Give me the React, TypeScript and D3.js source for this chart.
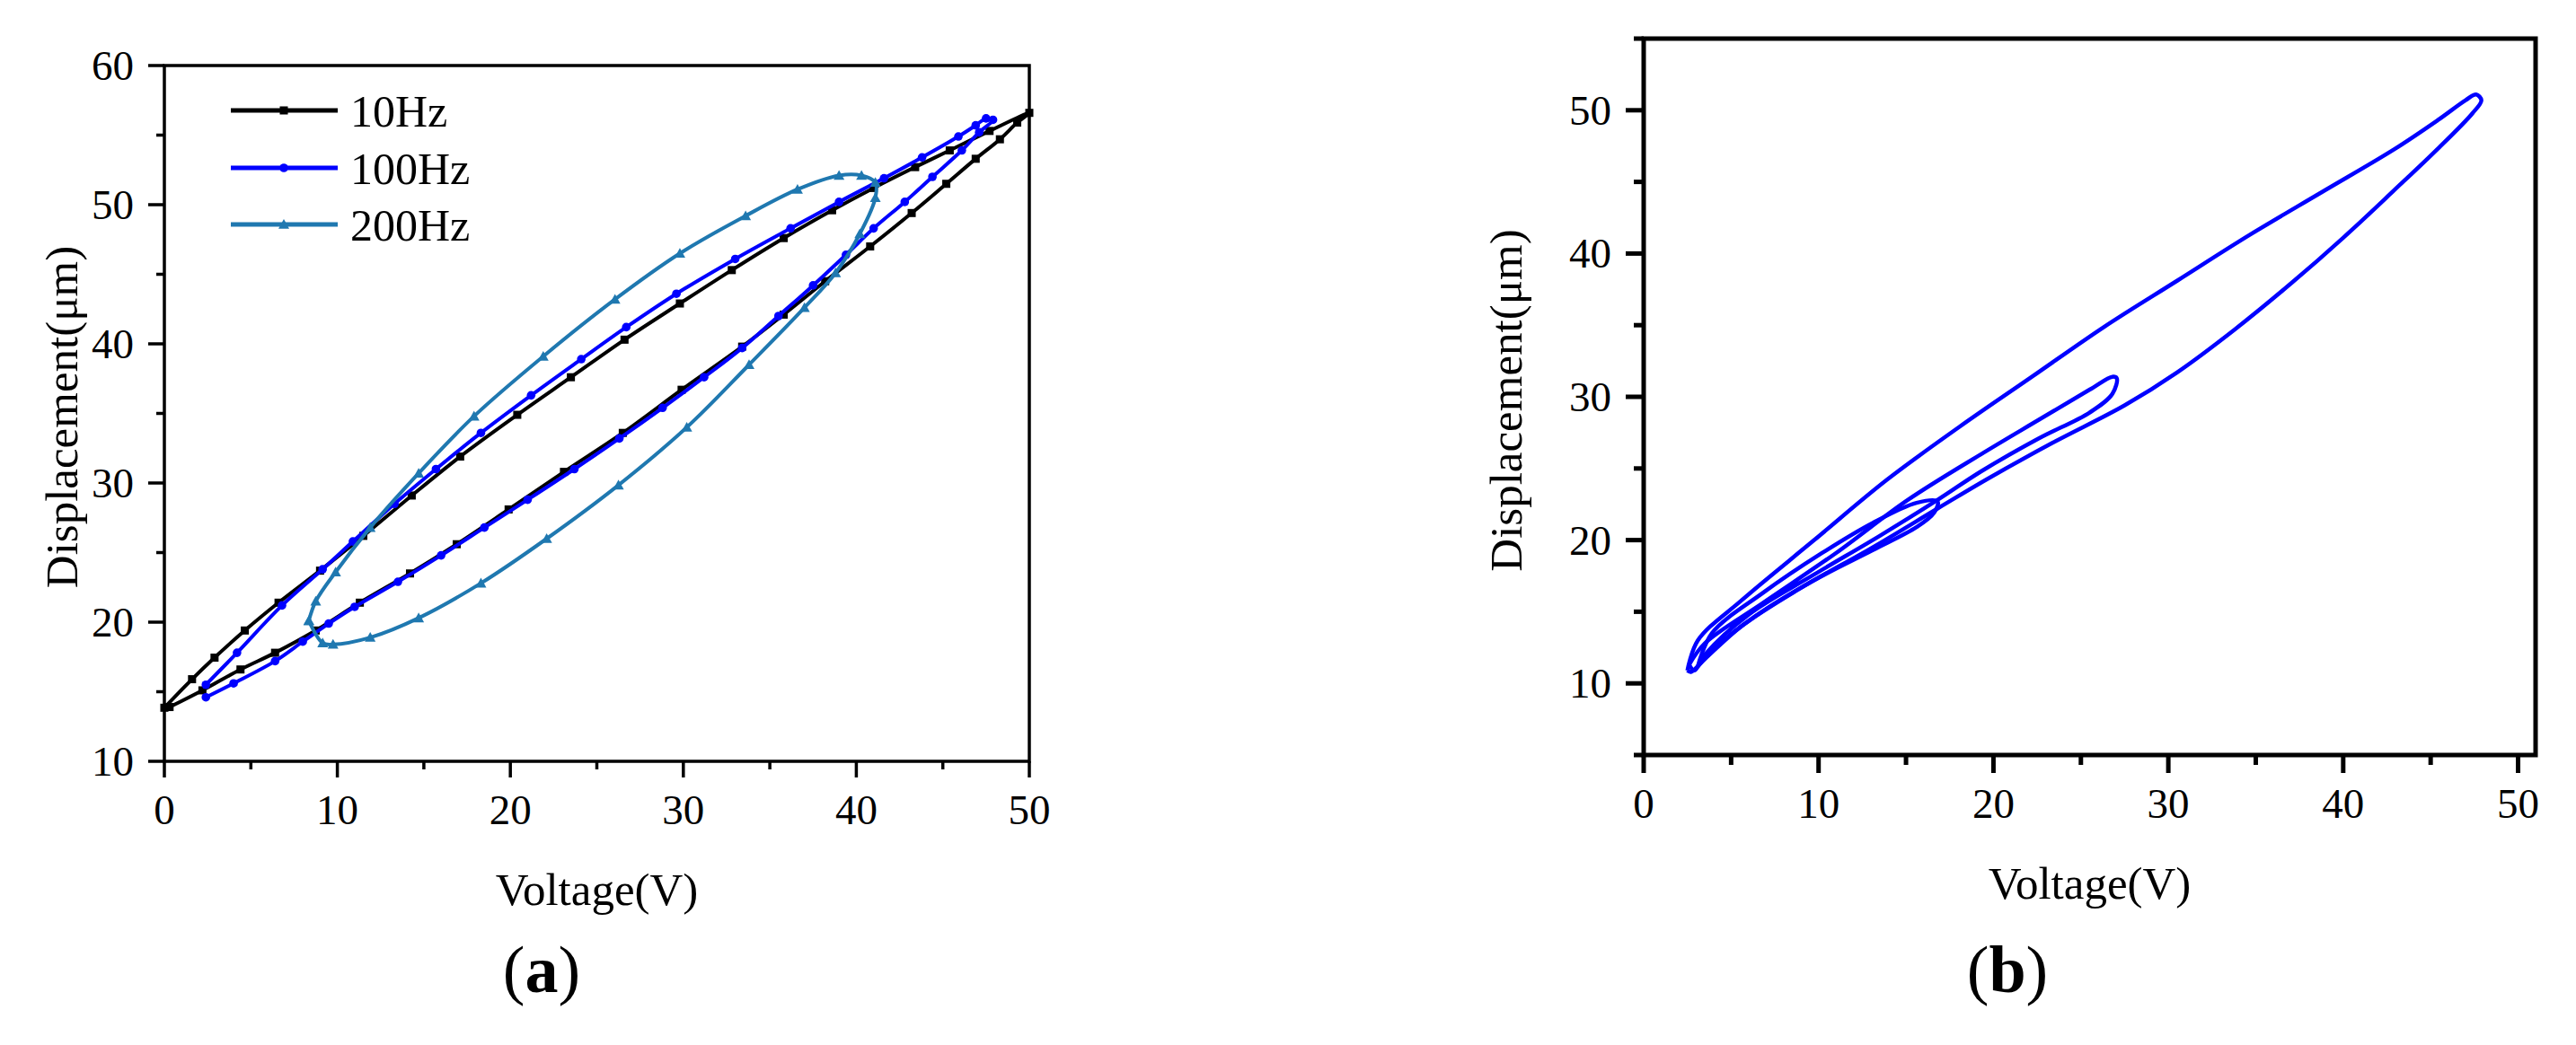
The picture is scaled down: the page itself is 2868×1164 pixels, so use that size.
import React from 'react';
import * as d3 from 'd3';

type Pt = [number, number];

// ---- panel (a): hysteresis loops at three frequencies (Voltage V, Displacement um)
const hz10: Pt[] = [
  [0, 13.85], [1.6, 15.9], [2.9, 17.45], [4.65, 19.4], [6.6, 21.4], [9.0, 23.7], [11.5, 26.2],
  [14.3, 29.1], [17.1, 31.9], [20.4, 34.9], [23.5, 37.6], [26.6, 40.3], [29.8, 42.9], [32.8, 45.3],
  [35.8, 47.6], [38.6, 49.6], [41.0, 51.2], [43.4, 52.7], [45.4, 53.9], [47.7, 55.3], [50, 56.6],
  [49.3, 55.9], [48.3, 54.7], [46.9, 53.3], [45.2, 51.5], [43.2, 49.4], [40.8, 47.0], [38.2, 44.5],
  [35.8, 42.1], [33.4, 39.8], [29.9, 36.7], [26.5, 33.6], [23.1, 30.8], [19.9, 28.1], [16.9, 25.6],
  [14.2, 23.5], [11.3, 21.4], [8.75, 19.4], [6.4, 17.8], [4.4, 16.6], [2.2, 15.1], [0.3, 13.9],
];

const hz100: Pt[] = [
  [2.4, 15.5], [4.2, 17.8], [6.8, 21.2], [9.15, 23.8], [10.9, 25.8], [13.3, 28.5], [15.7, 31.0],
  [18.3, 33.6], [21.2, 36.3], [24.1, 38.9], [26.7, 41.2], [29.6, 43.6], [33.0, 46.1], [36.2, 48.3],
  [39.0, 50.2], [41.6, 51.9], [43.8, 53.4], [45.9, 54.9], [46.9, 55.7], [47.5, 56.2], [47.9, 56.1],
  [47.1, 55.2], [46.1, 53.9], [44.4, 52.0], [42.8, 50.2], [41.0, 48.3], [39.4, 46.4], [37.5, 44.2],
  [35.5, 42.0], [33.4, 39.7], [31.2, 37.6], [28.8, 35.4], [26.3, 33.2], [23.7, 31.0], [21.0, 28.8],
  [18.5, 26.8], [16.0, 24.8], [13.5, 22.9], [11.0, 21.1], [9.5, 19.9], [8.0, 18.6], [6.4, 17.2],
  [4.0, 15.6], [2.4, 14.6],
];

const hz200: Pt[] = [
  [8.35, 20.1], [9.15, 18.5], [9.75, 18.4], [11.9, 18.9], [14.7, 20.3], [18.3, 22.8], [22.1, 26.0],
  [26.25, 29.85], [30.2, 34.0], [33.8, 38.5], [37.0, 42.6], [38.8, 45.1], [40.2, 47.9], [41.1, 50.5],
  [41.1, 51.6], [40.3, 52.1], [39.0, 52.1], [36.6, 51.1], [33.6, 49.2], [29.8, 46.5], [26.05, 43.2],
  [21.9, 39.1], [17.9, 34.8], [14.7, 30.7], [11.9, 26.8], [9.9, 23.6], [8.75, 21.5], [8.35, 20.1],
];

const legendA = ['10Hz', '100Hz', '200Hz'];

// ---- panel (b): nested minor loops
const loopBig: Pt[] = [
  [2.5, 10.9], [3.1, 13.0], [5.6, 15.8], [9.75, 20.0], [13.9, 24.2], [18.05, 27.9], [22.2, 31.4],
  [26.35, 34.9], [30.5, 38.1], [34.65, 41.3], [38.8, 44.3], [42.95, 47.3], [45.4, 49.3], [47.0, 50.7],
  [47.6, 51.1], [47.9, 50.7], [47.4, 49.8], [45.4, 47.3], [42.9, 44.4], [40.0, 41.1], [37.1, 38.0],
  [33.8, 34.7], [30.5, 31.7], [27.5, 29.4], [23.4, 26.8], [19.7, 24.3], [16.8, 22.2], [13.1, 19.5],
  [8.9, 16.6], [5.6, 14.0], [3.5, 11.7], [2.7, 10.8], [2.5, 10.9],
];

const loopMid: Pt[] = [
  [2.6, 11.3], [3.5, 12.8], [6.8, 15.6], [11.0, 19.1], [15.1, 22.8], [19.3, 26.0], [22.6, 28.4],
  [25.5, 30.5], [26.8, 31.4], [27.05, 31.3], [26.8, 30.2], [25.5, 28.9], [22.6, 27.1], [19.3, 24.8],
  [16.8, 22.8], [13.5, 20.3], [9.75, 17.6], [6.0, 14.8], [3.5, 12.0], [2.9, 10.9], [2.6, 11.3],
];

const loopSmall: Pt[] = [
  [3.1, 11.2], [3.9, 13.5], [6.8, 16.3], [10.2, 19.1], [13.1, 21.2], [15.6, 22.6], [16.8, 22.7],
  [16.6, 21.9], [15.6, 20.9], [13.1, 19.3], [9.75, 17.2], [6.4, 14.7], [3.9, 12.3], [3.1, 11.2],
];

const xMajor = [0, 10, 20, 30, 40, 50];
const xMinor = [5, 15, 25, 35, 45];
const yMajorA = [10, 20, 30, 40, 50, 60];
const yMinorA = [15, 25, 35, 45, 55];
const yMajorB = [10, 20, 30, 40, 50];
const yMinorB = [5, 15, 25, 35, 45, 55];

const FONT = '"Liberation Serif", "Times New Roman", serif';
const BLACK = '#000000';
const BLUE = '#0000ff';
const TEAL = '#1f78b0';

type Box = { l: number; r: number; t: number; b: number };

function Frame({ box, x, y, yMaj, yMin, sw, maj, min, titleX }: {
  box: Box; x: d3.ScaleLinear<number, number>; y: d3.ScaleLinear<number, number>;
  yMaj: number[]; yMin: number[]; sw: number; maj: number; min: number; titleX: number;
}) {
  const cx = (box.l + box.r) / 2;
  return (
    <g>
      <rect x={box.l} y={box.t} width={box.r - box.l} height={box.b - box.t}
        fill="none" stroke="#000" strokeWidth={sw} />
      {xMajor.map((v) => (
        <g key={'xM' + v}>
          <line x1={x(v)} x2={x(v)} y1={box.b} y2={box.b + maj} stroke="#000" strokeWidth={sw} />
          <text x={x(v)} y={box.b + 70} fontSize={47} textAnchor="middle" fontFamily={FONT}>{v}</text>
        </g>
      ))}
      {xMinor.map((v) => (
        <line key={'xm' + v} x1={x(v)} x2={x(v)} y1={box.b} y2={box.b + min} stroke="#000" strokeWidth={sw} />
      ))}
      {yMaj.map((v) => (
        <g key={'yM' + v}>
          <line x1={box.l - maj} x2={box.l} y1={y(v)} y2={y(v)} stroke="#000" strokeWidth={sw} />
          <text x={box.l - maj - 16} y={y(v)} dy="0.34em" fontSize={47} textAnchor="end" fontFamily={FONT}>{v}</text>
        </g>
      ))}
      {yMin.map((v) => (
        <line key={'ym' + v} x1={box.l - min} x2={box.l} y1={y(v)} y2={y(v)} stroke="#000" strokeWidth={sw} />
      ))}
      <text x={cx} y={box.b + 160} fontSize={51} textAnchor="middle" fontFamily={FONT}>Voltage(V)</text>
      <text transform={`translate(${titleX},${(box.t + box.b) / 2 + 4}) rotate(-90)`} dy="0.35em"
        fontSize={51} textAnchor="middle" fontFamily={FONT}>Displacement(μm)</text>
    </g>
  );
}

function Marker({ kind, cx, cy, color }: { kind: string; cx: number; cy: number; color: string }) {
  if (kind === 'square') return <rect x={cx - 4.5} y={cy - 4.5} width={9} height={9} fill={color} />;
  if (kind === 'circle') return <circle cx={cx} cy={cy} r={4.8} fill={color} />;
  const s = 6;
  return <path d={`M${cx},${cy - s}L${cx + s},${cy + s * 0.8}L${cx - s},${cy + s * 0.8}Z`} fill={color} />;
}

export default function App() {
  const boxA: Box = { l: 183, r: 1146, t: 73, b: 848 };
  const xA = d3.scaleLinear().domain([0, 50]).range([boxA.l, boxA.r]);
  const yA = d3.scaleLinear().domain([10, 60]).range([boxA.b, boxA.t]);
  const lineA = d3.line<Pt>().x((d) => xA(d[0])).y((d) => yA(d[1])).curve(d3.curveCatmullRom);

  const boxB: Box = { l: 1830, r: 2823, t: 43, b: 841 };
  const xB = d3.scaleLinear().domain([0, 51]).range([boxB.l, boxB.r]);
  const yB = d3.scaleLinear().domain([5, 55]).range([boxB.b, boxB.t]);
  const lineB = d3.line<Pt>().x((d) => xB(d[0])).y((d) => yB(d[1])).curve(d3.curveCatmullRom);

  const seriesA = [
    { data: hz10, color: BLACK, kind: 'square' },
    { data: hz100, color: BLUE, kind: 'circle' },
    { data: hz200, color: TEAL, kind: 'triangle' },
  ];
  const legendY = [123, 187, 250];

  return (
    <svg width={2868} height={1164} style={{ position: 'absolute', left: 0, top: 0, background: '#fff' }}>
      <Frame box={boxA} x={xA} y={yA} yMaj={yMajorA} yMin={yMinorA} sw={3.5} maj={18} min={9} titleX={68} />
      {seriesA.map((s, i) => (
        <g key={i}>
          <path d={lineA(s.data) || ''} fill="none" stroke={s.color} strokeWidth={4} strokeLinejoin="round" />
          {s.data.map((d, j) => (
            <Marker key={j} kind={s.kind} cx={xA(d[0])} cy={yA(d[1])} color={s.color} />
          ))}
        </g>
      ))}
      {legendA.map((name, i) => (
        <g key={name}>
          <line x1={257} x2={376} y1={legendY[i]} y2={legendY[i]} stroke={seriesA[i].color} strokeWidth={5} />
          <Marker kind={seriesA[i].kind} cx={316} cy={legendY[i]} color={seriesA[i].color} />
          <text x={390} y={legendY[i]} dy="0.35em" fontSize={50} fontFamily={FONT}>{name}</text>
        </g>
      ))}
      <text x={603} y={1105} fontSize={74} textAnchor="middle" fontFamily={FONT}>
        (<tspan fontWeight="bold">a</tspan>)
      </text>

      <Frame box={boxB} x={xB} y={yB} yMaj={yMajorB} yMin={yMinorB} sw={5} maj={20} min={11} titleX={1676} />
      {[loopBig, loopMid, loopSmall].map((d, i) => (
        <path key={i} d={lineB(d) || ''} fill="none" stroke={BLUE} strokeWidth={4.5} strokeLinejoin="round" />
      ))}
      <text x={2235} y={1105} fontSize={74} textAnchor="middle" fontFamily={FONT}>
        (<tspan fontWeight="bold">b</tspan>)
      </text>
    </svg>
  );
}
